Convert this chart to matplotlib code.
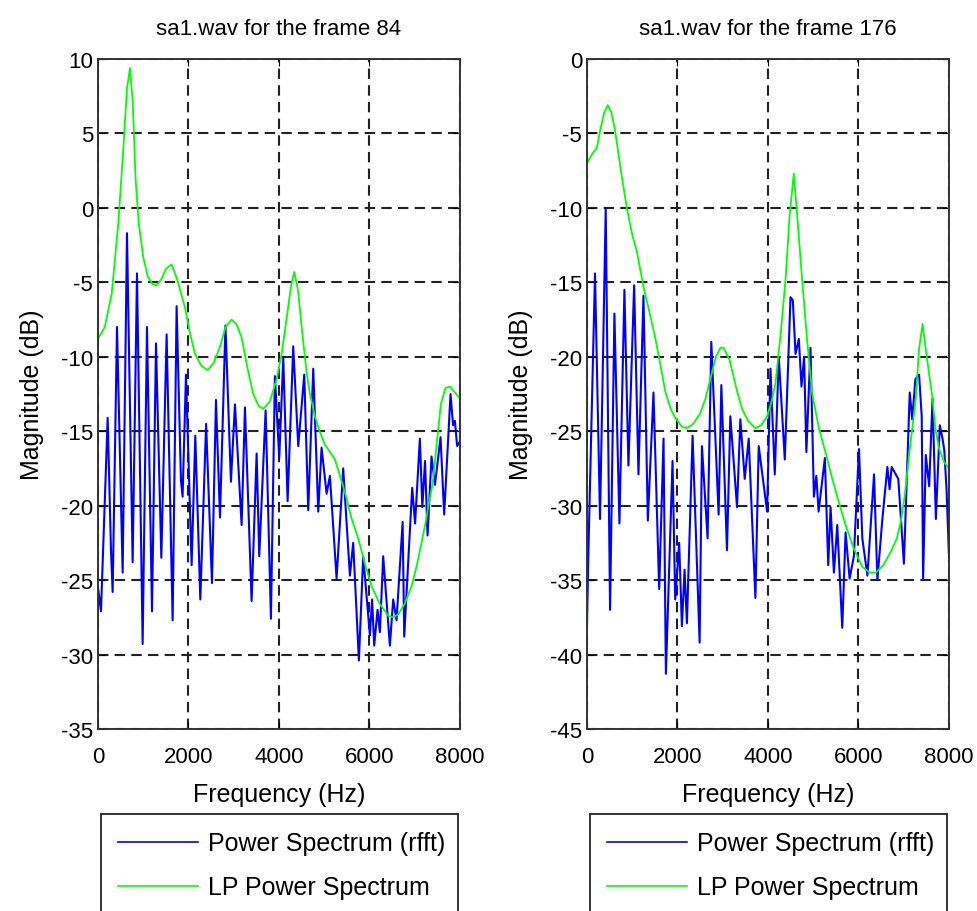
import matplotlib
matplotlib.use('Agg')
import matplotlib.pyplot as plt
from matplotlib.lines import Line2D

plt.rcParams['font.family'] = ['Liberation Sans', 'DejaVu Sans']
plt.rcParams['axes.unicode_minus'] = False

# frame 84: power spectrum (rfft) vertices
freq84 = [0, 66, 214, 287, 324, 420, 545, 641, 766, 862, 987, 1083, 1194, 1282,
          1400, 1517, 1650, 1738, 1834, 1870, 1945, 2070, 2151, 2262, 2390, 2520,
          2608, 2697, 2818, 2939, 3028, 3175, 3249, 3396, 3507, 3565, 3706, 3823,
          3911, 4007, 4096, 4192, 4316, 4427, 4560, 4648, 4759, 4869, 4943, 5054,
          5127, 5275, 5421, 5569, 5642, 5768, 5863, 6011, 6060, 6106, 6180, 6232,
          6305, 6453, 6526, 6600, 6735, 6770, 6946, 7010, 7116, 7170, 7230, 7286,
          7374, 7450, 7573, 7653, 7794, 7850, 7890, 7940, 8000]
pow84 = [-25.5, -27.1, -14.1, -23.0, -25.8, -8.0, -24.5, -1.7, -23.8, -4.4, -29.3, -8.0,
         -27.1, -9.1, -23.5, -8.5, -27.7, -6.6, -18.3, -19.4, -11.2, -24.0, -15.3, -26.3,
         -14.5, -25.2, -12.9, -20.8, -7.9, -18.4, -13.2, -21.3, -13.4, -26.4, -16.5,
         -23.4, -13.6, -27.6, -11.3, -16.8, -10.1, -19.7, -9.3, -16.0, -11.2, -20.3,
         -10.8, -20.4, -16.1, -19.2, -18.0, -24.9, -17.5, -24.7, -22.5, -30.4, -23.4,
         -28.7, -26.3, -29.4, -27.0, -28.5, -23.4, -29.4, -26.3, -27.7, -21.1, -28.8,
         -18.8, -21.2, -15.5, -20.1, -17.0, -22.0, -16.7, -18.6, -15.4, -20.6, -12.5,
         -14.6, -14.3, -16.0, -15.7]

# frame 84: LP power spectrum
lpf84 = [0, 150, 302, 450, 560, 640, 707, 770, 830, 900, 1000, 1100, 1200, 1297, 1400,
         1500, 1628, 1750, 1923, 2040, 2144, 2280, 2424, 2560, 2700, 2820, 2954, 3060,
         3175, 3300, 3433, 3550, 3654, 3800, 3950, 4060, 4180, 4270, 4339, 4420, 4520,
         4610, 4685, 4796, 4900, 5017, 5130, 5238, 5350, 5459, 5600, 5753, 5900, 6048,
         6230, 6416, 6530, 6637, 6780, 6932, 7050, 7153, 7250, 7337, 7400, 7500, 7580,
         7680, 7780, 7890, 8000]
lp84 = [-8.8, -8.0, -5.8, -1.0, 4.0, 8.0, 9.4, 7.0, 2.0, -1.0, -3.3, -4.6, -5.1, -5.2,
        -4.8, -4.1, -3.8, -4.8, -6.7, -8.5, -9.8, -10.6, -10.9, -10.4, -9.3, -8.0, -7.5,
        -7.8, -8.7, -10.7, -12.5, -13.3, -13.5, -13.0, -11.5, -9.8, -7.2, -5.2, -4.3,
        -5.5, -8.5, -11.0, -12.5, -14.0, -15.0, -15.9, -16.4, -16.9, -18.0, -19.1,
        -20.8, -22.2, -23.9, -25.4, -26.6, -27.4, -27.5, -27.3, -26.6, -25.4, -24.0,
        -22.5, -21.0, -19.5, -18.5, -15.5, -13.2, -12.1, -12.0, -12.4, -12.8]

# frame 176: power spectrum (rfft)
freq176 = [0, 29, 177, 288, 414, 510, 606, 717, 827, 916, 1042, 1138, 1248, 1345, 1470,
           1596, 1692, 1744, 1891, 1950, 2038, 2098, 2157, 2209, 2334, 2490, 2541, 2666,
           2748, 2910, 2970, 3095, 3169, 3317, 3390, 3487, 3575, 3723, 3796, 3982, 4056,
           4151, 4240, 4373, 4499, 4550, 4610, 4683, 4742, 4800, 4850, 4941, 5016, 5070,
           5120, 5259, 5333, 5385, 5459, 5533, 5643, 5717, 5806, 5900, 6013, 6087, 6199,
           6346, 6420, 6530, 6641, 6690, 6735, 6882, 7006, 7135, 7190, 7260, 7342, 7400,
           7431, 7490, 7565, 7639, 7713, 7800, 7860, 7900, 7950, 8000]
pow176 = [-38.0, -33.4, -14.4, -30.9, -10.0, -37.0, -17.1, -31.2, -15.5, -27.3, -15.2,
          -27.9, -15.9, -31.0, -22.4, -35.6, -25.5, -41.3, -27.0, -36.3, -32.5, -38.1,
          -34.3, -37.9, -25.3, -39.2, -26.0, -32.2, -19.0, -30.6, -21.9, -33.0, -24.0,
          -30.1, -24.2, -28.2, -25.5, -36.2, -26.0, -30.4, -20.8, -27.9, -20.0, -26.9,
          -16.0, -16.2, -19.8, -18.8, -22.0, -20.0, -26.4, -19.4, -29.4, -28.0, -30.4,
          -26.8, -34.0, -30.1, -34.5, -31.3, -38.2, -31.8, -34.9, -33.4, -26.2, -32.2,
          -34.7, -27.9, -35.0, -30.9, -27.4, -28.9, -27.4, -28.2, -33.9, -22.4, -24.2,
          -21.5, -21.2, -24.0, -34.9, -26.6, -28.7, -22.8, -30.9, -24.6, -25.5, -26.3,
          -29.0, -33.2]

# frame 176: LP power spectrum
lpf176 = [0, 130, 215, 290, 380, 458, 540, 620, 750, 880, 1000, 1101, 1248, 1380, 1507,
          1620, 1728, 1850, 1950, 2100, 2209, 2350, 2504, 2620, 2726, 2850, 2950, 3020,
          3150, 3317, 3428, 3560, 3723, 3850, 3982, 4080, 4166, 4280, 4387, 4480, 4572,
          4660, 4758, 4870, 4980, 5127, 5280, 5423, 5570, 5717, 5900, 6087, 6250, 6382,
          6550, 6715, 6850, 6936, 7030, 7120, 7200, 7269, 7340, 7418, 7490, 7565, 7639,
          7700, 7786, 7900, 8000]
lp176 = [-7.0, -6.3, -6.0, -4.8, -3.6, -3.1, -3.6, -4.8, -7.5, -10.0, -11.8, -12.9,
         -15.3, -17.0, -18.7, -20.5, -22.3, -23.5, -24.1, -24.7, -24.8, -24.5, -23.8,
         -22.8, -21.5, -20.0, -19.4, -19.4, -20.2, -22.3, -23.5, -24.3, -24.8, -24.6,
         -24.0, -23.0, -21.8, -18.5, -14.9, -10.5, -7.7, -11.0, -14.9, -19.0, -22.5,
         -24.8, -26.5, -28.2, -29.8, -31.3, -32.9, -34.1, -34.5, -34.5, -34.0, -33.1,
         -32.2, -31.1, -29.2, -26.6, -24.6, -22.8, -19.5, -17.8, -19.5, -21.2, -22.8,
         -24.8, -26.2, -27.1, -27.5]

panels = [
    ('sa1.wav for the frame 84', freq84, pow84, lpf84, lp84, (-35, 10)),
    ('sa1.wav for the frame 176', freq176, pow176, lpf176, lp176, (-45, 0)),
]

fig = plt.figure(figsize=(9.78, 9.12), dpi=100)
lefts = [0.1002, 0.6002]

for left, (title, fx, px, fl, pl, ylim) in zip(lefts, panels):
    ax = fig.add_axes([left, 0.1996, 0.370, 0.7346])
    ax.plot(fx, px, color=(0, 0, 1), lw=1.5)
    ax.plot(fl, pl, color=(0, 1, 0), lw=1.3)
    ax.set_xlim(0, 8000)
    ax.set_ylim(*ylim)
    ax.set_xticks([0, 2000, 4000, 6000, 8000])
    ax.set_yticks(list(range(ylim[0], ylim[1] + 1, 5)))
    ax.grid(True, color='#222222', linestyle=(0, (5, 3)), lw=1.5)
    ax.tick_params(axis='x', pad=12)
    ax.tick_params(direction='in', top=True, right=True, length=5, labelsize=16)
    for s in ax.spines.values():
        s.set_color('#333333')
        s.set_linewidth(1.4)
    ax.set_title(title, fontsize=16, pad=18)
    ax.set_xlabel('Frequency (Hz)', fontsize=18, labelpad=11)
    ax.set_ylabel('Magnitude (dB)', fontsize=18, labelpad=12)

    handles = [Line2D([], [], color=(0, 0, 1), lw=1.2),
               Line2D([], [], color=(0, 1, 0), lw=1.2)]
    leg = ax.legend(handles, ['Power Spectrum (rfft)', 'LP Power Spectrum'],
                    loc='upper left', bbox_to_anchor=(left + 0.003, 0.1064, 0.365, 0),
                    bbox_transform=fig.transFigure, mode='expand', fontsize=18,
                    handlelength=3.2, handletextpad=0.4, borderpad=0.7,
                    labelspacing=0.8, fancybox=False, framealpha=1,
                    borderaxespad=0)
    leg.get_frame().set_edgecolor('#333333')
    leg.get_frame().set_linewidth(1.4)

fig.savefig('out.png', dpi=100)
